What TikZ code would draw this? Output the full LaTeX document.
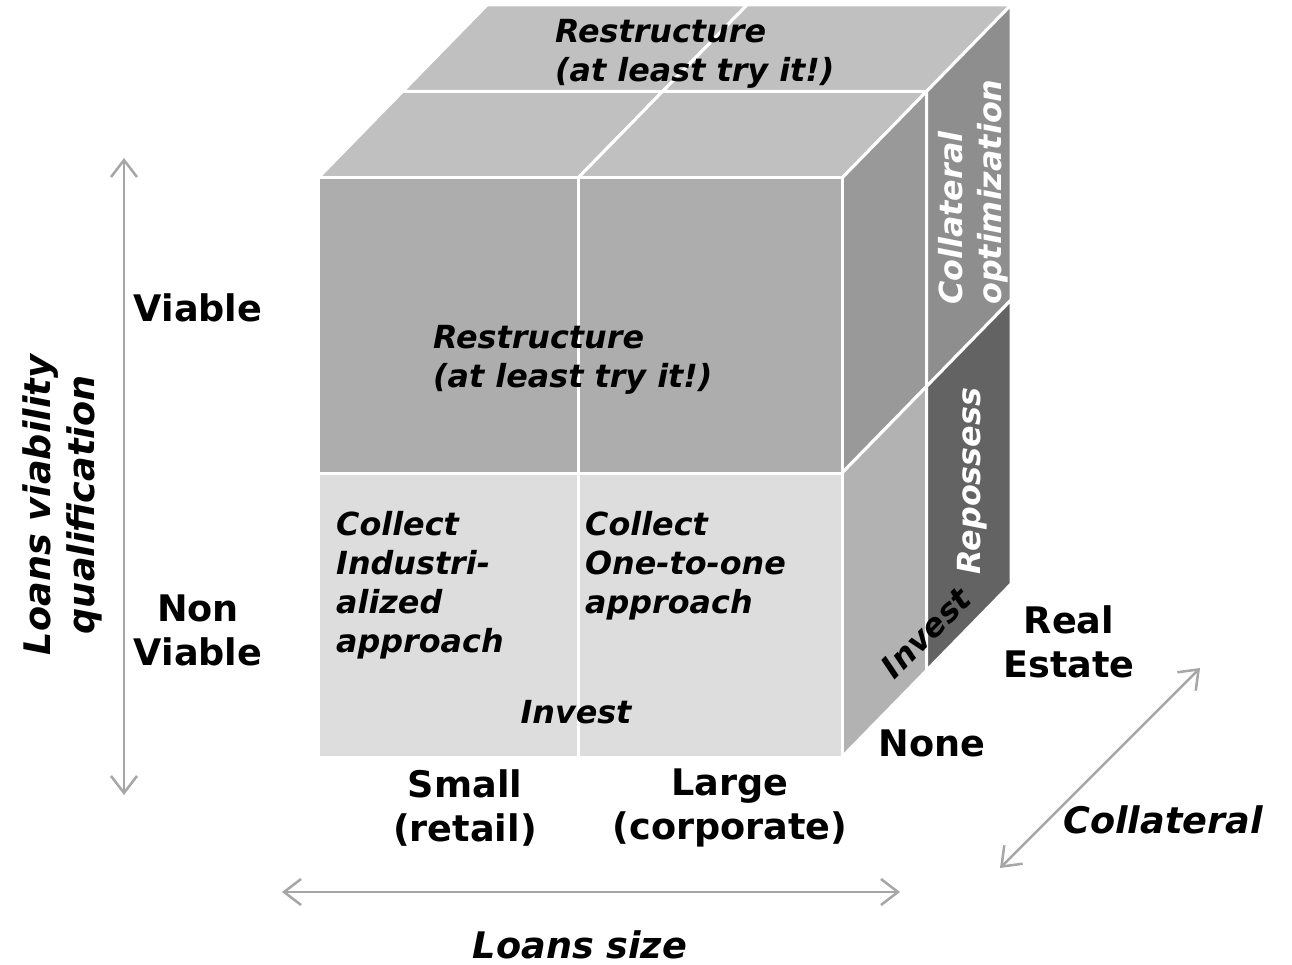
\documentclass[tikz,border=0pt]{standalone}
\usepackage{fontspec}
\setmainfont{DejaVu Sans}
\usetikzlibrary{arrows.meta}
\definecolor{topgray}{HTML}{C0C0C0}
\definecolor{frontup}{HTML}{ADADAD}
\definecolor{frontlow}{HTML}{DDDDDD}
\definecolor{sideup}{HTML}{999999}
\definecolor{sidelow}{HTML}{B2B2B2}
\definecolor{backup}{HTML}{8E8E8E}
\definecolor{backlow}{HTML}{636363}
\definecolor{axisgray}{HTML}{A6A6A6}
\begin{document}
\begin{tikzpicture}[x=1pt,y=-1pt,
  cell/.style={draw=white, line width=3pt, line join=miter},
  axis/.style={draw=axisgray, line width=2.5pt,
    {Straight Barb[length=17pt,width=26pt]}-{Straight Barb[length=17pt,width=26pt]}},
  lab/.style={font=\fontsize{36.6}{44}\selectfont\bfseries, align=center, inner sep=0pt},
  axislab/.style={font=\fontsize{36.6}{44}\selectfont\bfseries\itshape, align=center, inner sep=0pt},
  celltxt/.style={font=\fontsize{31.8}{39}\selectfont\bfseries\itshape, align=left, inner sep=0pt},
]
\useasboundingbox (0,0) rectangle (1292,965);

% ---- cube corners: front plane, mid-depth plane, back plane
\coordinate (a1) at (318,178);   \coordinate (a2) at (578,178);   \coordinate (a3) at (842,178);
\coordinate (b1) at (318,473);   \coordinate (b2) at (578,473);   \coordinate (b3) at (842,473);
\coordinate (c1) at (318,757);   \coordinate (c2) at (578,757);   \coordinate (c3) at (842,757);
\coordinate (m1) at (402.5,91.5); \coordinate (m2) at (662.5,91.5); \coordinate (m3) at (926.5,91.5);
\coordinate (m4) at (926.5,386.5); \coordinate (m5) at (926.5,670.5);
\coordinate (k1) at (487,5);     \coordinate (k2) at (747,5);     \coordinate (k3) at (1011,5);
\coordinate (k4) at (1011,300);  \coordinate (k5) at (1011,584);

% ---- top face
\filldraw[cell, fill=topgray] (a1) -- (a2) -- (m2) -- (m1) -- cycle;
\filldraw[cell, fill=topgray] (a2) -- (a3) -- (m3) -- (m2) -- cycle;
\filldraw[cell, fill=topgray] (m1) -- (m2) -- (k2) -- (k1) -- cycle;
\filldraw[cell, fill=topgray] (m2) -- (m3) -- (k3) -- (k2) -- cycle;

% ---- right face
\filldraw[cell, fill=sideup]  (a3) -- (m3) -- (m4) -- (b3) -- cycle;
\filldraw[cell, fill=backup]  (m3) -- (k3) -- (k4) -- (m4) -- cycle;
\filldraw[cell, fill=sidelow] (b3) -- (m4) -- (m5) -- (c3) -- cycle;
\filldraw[cell, fill=backlow] (m4) -- (k4) -- (k5) -- (m5) -- cycle;

% ---- front face
\filldraw[cell, fill=frontup]  (a1) rectangle (b2);
\filldraw[cell, fill=frontup]  (a2) rectangle (b3);
\filldraw[cell, fill=frontlow] (b1) rectangle (c2);
\filldraw[cell, fill=frontlow] (b2) rectangle (c3);

% ---- texts inside the cube
\node[celltxt, anchor=north west] (toprs) at (555,19) {Restructure\\(at least try it!)};
\node[celltxt, anchor=north west] (frontrs) at (433,325) {Restructure\\(at least try it!)};
\node[celltxt, anchor=north west] (collsmall) at (336,511) {Collect\\Industri-\\alized\\approach};
\node[celltxt, anchor=north west] (colllarge) at (585,511) {Collect\\One-to-one\\approach};
\node[celltxt] (investfront) at (576,712) {Invest};
\node[celltxt, rotate=45] (investside) at (926,633) {Invest};
\node[celltxt, text=white, rotate=90] (repossess) at (972,481) {Repossess};
\node[celltxt, text=white, rotate=90, anchor=north west] (collopt) at (938,305) {Collateral\\optimization};

% ---- category labels
\node[lab] (viable) at (198,308) {Viable};
\node[lab] (nonviable) at (198,630) {Non\\Viable};
\node[lab] (small) at (465,808) {Small\\(retail)};
\node[lab] (large) at (730,808) {Large\\(corporate)};
\node[lab] (none) at (932,743) {None};
\node[lab] (realestate) at (1069,642) {Real\\Estate};

% ---- axes
\coordinate (vtop) at (124,158);  \coordinate (vbot) at (124,795);
\coordinate (hleft) at (282,892); \coordinate (hright) at (900,892);
\coordinate (dlow) at (1000,868); \coordinate (dhigh) at (1200,668);
\draw[axis] (vtop) -- (vbot);
\draw[axis] (hleft) -- (hright);
\draw[axis] (dlow) -- (dhigh);

\node[axislab, rotate=90] (viabilityaxis) at (62,505) {Loans viability\\qualification};
\node[axislab] (sizeaxis) at (580,945) {Loans size};
\node[axislab] (collaxis) at (1163,820) {Collateral};
\end{tikzpicture}
\end{document}
